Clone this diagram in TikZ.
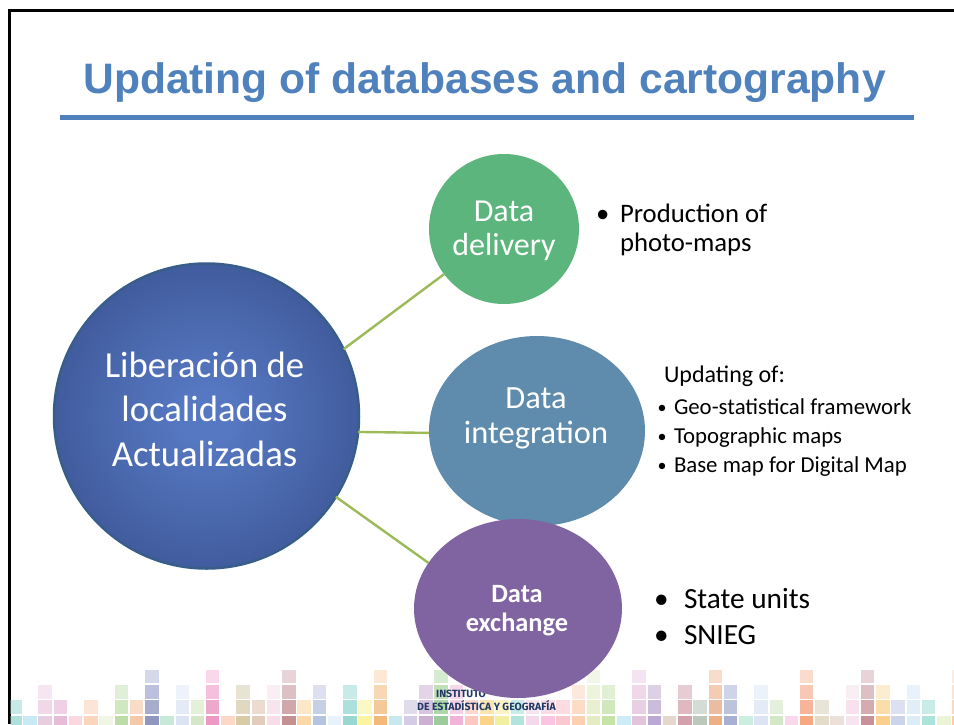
\documentclass[tikz,border=0pt]{standalone}
\usepackage{fontspec}
\setmainfont{Carlito}
\newfontfamily\titlefont{Liberation Sans}
\newfontfamily\logofont{Fira Sans}
\usetikzlibrary{shapes.geometric}
\definecolor{titleblue}{HTML}{4F81BD}
\definecolor{linkgreen}{HTML}{9BBB59}
\definecolor{logonavy}{HTML}{1F3864}
\definecolor{hubedge}{HTML}{385D8A}
\definecolor{hubin}{HTML}{5678C2}
\definecolor{hubout}{HTML}{2C4078}
\definecolor{delivfill}{HTML}{5CB57C}
\definecolor{integfill}{HTML}{5F8CAD}
\definecolor{exchfill}{HTML}{8063A1}
\pgfdeclareradialshading{hubshade}{\pgfpoint{0bp}{0bp}}{color(0bp)=(hubin); color(4bp)=(hubin); color(47bp)=(hubout); color(50bp)=(hubout)}
\newcommand{\fs}[1]{\fontsize{#1}{#1}\selectfont}
\tikzset{
  lbl/.style={inner sep=0pt,outer sep=0pt,anchor=base west,text=black},
  ctr/.style={inner sep=0pt,outer sep=0pt,anchor=base,text=white},
  link/.style={draw=linkgreen,line width=2.4pt},
  blob/.style={inner sep=0pt,outer sep=0pt}
}
\begin{document}
\begin{tikzpicture}[x=1pt,y=-1pt]
\useasboundingbox (0,0) rectangle (954,724);
\fill[white] (0,0) rectangle (954,724);
% frame
\fill[black] (7.5,9) rectangle (954,11.5);
\fill[black] (7.5,9) rectangle (10.5,724);
% footer mosaic
\begin{scope}
\clip (10.5,660) rectangle (954,724);
\foreach \i/\r/\c in {
0/0/B0E0DC,0/1/C8EAE6,1/0/C8EAF5,2/0/E8CCE0,2/1/F0D8E8,2/2/F5E6F2,3/0/E8BCD8,3/1/F0D0E4,
4/0/FBD8E0,5/0/FDD5BC,5/1/FCE4D6,6/0/F0F5E4,7/0/BCDDA8,7/1/D0E8C0,7/2/E0F0D8,8/0/F4C8A8,8/1/F8DCC8,
9/0/9098C0,9/1/A8ACCC,9/2/BCC0DC,9/3/D4D8E8,10/0/C8E8D8,11/0/DCE4F4,11/1/E4EAF6,11/2/EEF2FA,
12/0/D4E8C8,12/1/E4F0D8,13/0/EE98C4,13/1/EEA8CC,13/2/F4C0DC,13/3/F8D8EA,14/0/FBD8C8,
15/0/D8CCA8,15/1/E0D8C0,15/2/E8E4D4,16/0/E4CCBC,16/1/ECDCD0,17/0/F8DCE8,17/1/F8E4EC,17/2/FAEEF4,
18/0/C49090,18/1/D0A8AC,18/2/DCC0C4,18/3/E8D4D8,19/0/FCD8A8,19/1/FCE8C8,20/0/B4C4E0,20/1/C4D0E4,20/2/DCE0F0,
21/0/E8F2FC,22/0/98D8D0,22/1/ACE0DC,22/2/C8EAE8,23/0/FCF4A0,23/1/FCF8C4,
24/0/F4B878,24/1/F4C898,24/2/F8D8B4,24/3/FCE8D4,25/0/C8E8F0,26/0/D4CCE4,26/1/E0DCEC,
27/0/CCB0D4,27/1/D8C4E0,27/2/E4D4E8,28/0/9CCC9C,28/1/ACD8A8,28/2/C0E0B8,28/3/D4ECD0,
29/0/F0B4D8,29/1/F4D0E4,29/2/F8D8E8,30/0/FCC8C0,30/1/FCD8D0,31/0/FCD488,31/1/FCE4B0,
32/0/F0F0A0,32/1/FCF4C4,33/0/B0E4DC,33/1/C8ECE8,34/0/F4D8EC,34/1/F8E4F0,35/0/FCC4E0,35/1/F8DCE8,
36/0/FCC8D0,36/1/FCDCE0,37/0/FCD0B0,37/1/FCDCC4,37/2/FCE8DC,
38/0/E4ECC4,38/1/E8F0D0,38/2/ECF4DC,38/3/F2F6E6,39/0/C4E4A8,39/1/D0E8BC,39/2/E0F0D4,40/0/CCECF8,
41/0/E4C4DC,41/1/E8D0E4,41/2/EED8EA,41/3/F4E4F2,42/0/BCA8D4,42/1/CCBCDC,42/2/DCD0E4,43/0/E4D8CC,
44/0/D4A0AC,44/1/E0B8C0,44/2/E8CCD4,45/0/BCC8BC,45/1/D4DCD8,
46/0/ECB084,46/1/ECBCA0,46/2/F4CCB4,46/3/F8DCCC,47/0/A8B0D4,47/1/BCC4DC,47/2/D0D4E8,48/0/CCEEE0,
49/0/DCE4F4,49/1/E4EAF6,49/2/ECF2FA,50/0/D4E8C8,50/1/E4F0DC,51/0/F8D8EC,
52/0/F8A880,52/1/F8B498,52/2/F8C8B4,52/3/FADCCC,53/0/E4DCC8,53/1/E8E4D8,54/0/ECE0D8,
55/0/F8E4EE,55/1/F8E0EC,55/2/F8EEF4,56/0/C89098,56/1/D4ACB0,56/2/DCC0C4,56/3/E8D4D8,
57/0/FCD08C,57/1/FCDCA8,57/2/FCECD0,58/0/CCD4EC,58/1/DCE0F0,59/0/DCECF8,59/1/E0EEF8,59/2/E8F2FC,
60/0/ACE4DC,60/1/C8ECE8,61/0/ECF4D8,62/0/FCCCA8,62/1/FCD8C0,62/2/FCE4D4,62/3/FCECE0}
{
  \definecolor{cellc}{HTML}{\c}
  \pgfmathsetmacro{\xa}{8+15.23*\i}
  \pgfmathsetmacro{\ya}{715.5-15.2*\r}
  \fill[cellc] (\xa,\ya) rectangle ++(13.5,13.5);
}
\end{scope}
% logo
\node[inner sep=0pt,anchor=base west,text=logonavy] (logoa) at (436,697) {\logofont\bfseries\fs{10.5}INSTITUTO};
\node[inner sep=0pt,anchor=base west,text=logonavy] (logob) at (417,710) {\logofont\bfseries\fs{10.5}DE ESTADÍSTICA Y GEOGRAFÍA};
% title
\node[inner sep=0pt,anchor=base,text=titleblue] (title) at (484.5,93) {\titlefont\bfseries\fs{42.6}Updating of databases and cartography};
\fill[titleblue] (60,115) rectangle (914,120);
% blobs
\node[blob,circle,minimum size=305pt,draw=hubedge,line width=2.5pt,shading=hubshade] (hub) at (206.5,416) {};
\node[blob,circle,minimum size=150pt,fill=delivfill] (deliv) at (504,229) {};
\node[blob,ellipse,minimum width=216pt,minimum height=190pt,fill=integfill] (integ) at (537,431) {};
\node[blob,ellipse,minimum width=208pt,minimum height=179pt,fill=exchfill] (exch) at (518,608.5) {};
% connectors
\draw[link] (hub.26) -- (deliv.217);
\draw[link] (hub.-6.4) -- (integ.181);
\draw[link] (hub.-32.5) -- (exch.153.7);
% hub text
\node[ctr] (h1) at (204.5,377) {\fs{36.7}Liberación de};
\node[ctr] (h2) at (204.5,421) {\fs{36.7}localidades};
\node[ctr] (h3) at (204.5,466) {\fs{36.7}Actualizadas};
\node[ctr] (d1) at (504,221) {\fs{32}Data};
\node[ctr] (d2) at (504,255) {\fs{32}delivery};
\node[ctr] (i1) at (536,408) {\fs{32.4}Data};
\node[ctr] (i2) at (536,443) {\fs{32.4}integration};
\node[ctr] (e1) at (517,602) {\bfseries\fs{26.4}Data};
\node[ctr] (e2) at (517,631) {\bfseries\fs{26.4}exchange};
% side text
\node[lbl] (pa) at (596,222) {\fs{26.7}•};
\node[lbl] (pb) at (620,222) {\fs{26.7}Production of};
\node[lbl] (pc) at (620,251) {\fs{26.7}photo-maps};
\node[lbl] (ua) at (664,382) {\fs{24}Updating of:};
\node[lbl] (ub) at (657.5,413) {\fs{18}•};
\node[lbl] (uc) at (674,414) {\fs{22.8}Geo-statistical framework};
\node[lbl] (ud) at (657.5,442) {\fs{18}•};
\node[lbl] (ue) at (674,443) {\fs{22.8}Topographic maps};
\node[lbl] (uf) at (657.5,471) {\fs{18}•};
\node[lbl] (ug) at (674,472) {\fs{22.8}Base map for Digital Map};
\node[lbl] (sa) at (654,608) {\fs{29.3}•};
\node[lbl] (sb) at (684,608) {\fs{29.3}State units};
\node[lbl] (sc) at (654,644) {\fs{29.3}•};
\node[lbl] (sd) at (684,644) {\fs{29.3}SNIEG};
\end{tikzpicture}
\end{document}
